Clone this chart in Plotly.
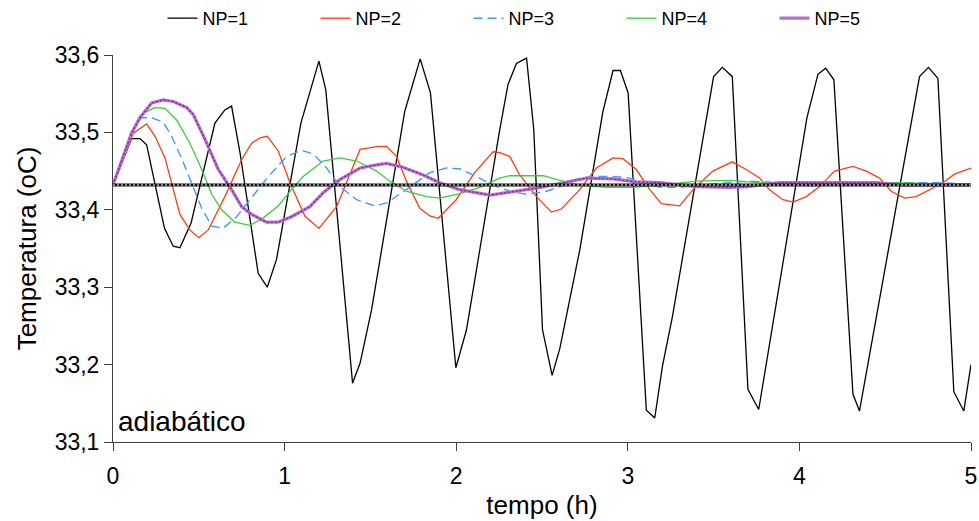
import plotly.graph_objects as go

# Temperature response (oC) vs time (h) for different NP values, adiabatic case
t_np1 = [0, 0.108, 0.157, 0.196, 0.30, 0.351, 0.39, 0.455, 0.594, 0.652, 0.691, 0.74, 0.846,
         0.899, 0.953, 1.095, 1.2, 1.24, 1.396, 1.44, 1.507, 1.70, 1.79, 1.85, 1.998, 2.06,
         2.254, 2.302, 2.351, 2.41, 2.452, 2.503, 2.559, 2.604, 2.72, 2.855, 2.914, 2.957,
         3.002, 3.108, 3.157, 3.202, 3.26, 3.50, 3.551, 3.609, 3.70, 3.763, 4.044, 4.108,
         4.153, 4.201, 4.312, 4.35, 4.70, 4.752, 4.807, 4.90, 4.958, 5.0]
T_np1 = [33.432, 33.492, 33.492, 33.484, 33.376, 33.353, 33.351, 33.383, 33.512, 33.529, 33.534,
         33.474, 33.318, 33.300, 33.336, 33.512, 33.592, 33.555, 33.176, 33.202, 33.271, 33.527,
         33.595, 33.551, 33.196, 33.245, 33.504, 33.562, 33.589, 33.596, 33.504, 33.245, 33.186,
         33.221, 33.348, 33.527, 33.580, 33.580, 33.551, 33.141, 33.131, 33.198, 33.262, 33.572,
         33.584, 33.572, 33.168, 33.142, 33.519, 33.575, 33.583, 33.568, 33.162, 33.140, 33.572,
         33.584, 33.570, 33.165, 33.140, 33.200]

t_np2 = [0, 0.118, 0.196, 0.245, 0.303, 0.39, 0.448, 0.5, 0.555, 0.652, 0.75, 0.808, 0.856, 0.899,
         0.963, 1.031, 1.118, 1.20, 1.303, 1.44, 1.545, 1.594, 1.652, 1.71, 1.788, 1.846, 1.895,
         2.0, 2.108, 2.215, 2.254, 2.312, 2.37, 2.468, 2.555, 2.613, 2.72, 2.817, 2.914, 2.972,
         3.05, 3.128, 3.196, 3.302, 3.38, 3.496, 3.609, 3.69, 3.768, 3.826, 3.904, 3.963, 4.04,
         4.118, 4.205, 4.312, 4.39, 4.467, 4.535, 4.613, 4.681, 4.758, 4.836, 4.904, 5.0]
T_np2 = [33.432, 33.499, 33.511, 33.495, 33.467, 33.394, 33.374, 33.364, 33.374, 33.417, 33.465,
         33.486, 33.493, 33.495, 33.476, 33.435, 33.392, 33.376, 33.404, 33.478, 33.482, 33.482,
         33.469, 33.437, 33.402, 33.392, 33.389, 33.413, 33.448, 33.475, 33.474, 33.469, 33.445,
         33.417, 33.397, 33.401, 33.426, 33.454, 33.467, 33.466, 33.452, 33.426, 33.408, 33.405,
         33.426, 33.450, 33.462, 33.452, 33.441, 33.426, 33.413, 33.410, 33.417, 33.430, 33.450,
         33.456, 33.450, 33.441, 33.424, 33.415, 33.417, 33.426, 33.435, 33.446, 33.454]

t_np3 = [0, 0.108, 0.167, 0.225, 0.293, 0.342, 0.41, 0.468, 0.517, 0.575, 0.642, 0.72, 0.808,
         0.905, 1.012, 1.099, 1.167, 1.245, 1.322, 1.42, 1.526, 1.594, 1.71, 1.846, 1.943, 2.02,
         2.118, 2.215, 2.312, 2.41, 2.527, 2.604, 2.72, 2.817, 2.914, 3.011, 3.108, 3.205, 3.302,
         3.4, 3.593, 3.7, 3.82, 3.95, 4.1, 4.25, 4.5, 4.83, 5.0]
T_np3 = [33.432, 33.499, 33.519, 33.519, 33.513, 33.495, 33.461, 33.428, 33.402, 33.379, 33.376,
         33.391, 33.415, 33.443, 33.469, 33.477, 33.472, 33.454, 33.430, 33.413, 33.405, 33.409,
         33.426, 33.448, 33.454, 33.453, 33.443, 33.432, 33.424, 33.420, 33.424, 33.430, 33.441,
         33.443, 33.443, 33.441, 33.432, 33.429, 33.429, 33.432, 33.435, 33.437, 33.436, 33.432,
         33.431, 33.433, 33.435, 33.435, 33.433]

t_np4 = [0, 0.108, 0.177, 0.245, 0.303, 0.371, 0.448, 0.517, 0.575, 0.633, 0.71, 0.798, 0.866,
         0.963, 1.04, 1.108, 1.225, 1.322, 1.42, 1.536, 1.613, 1.71, 1.827, 1.904, 2.02, 2.137,
         2.196, 2.254, 2.312, 2.438, 2.507, 2.604, 2.72, 2.875, 3.03, 3.186, 3.302, 3.4, 3.593,
         3.7, 3.82, 3.95, 4.2, 4.5, 4.83, 5.0]
T_np4 = [33.432, 33.499, 33.525, 33.532, 33.531, 33.516, 33.486, 33.452, 33.420, 33.400, 33.384,
         33.380, 33.388, 33.405, 33.426, 33.443, 33.463, 33.467, 33.463, 33.450, 33.437, 33.424,
         33.417, 33.415, 33.421, 33.429, 33.435, 33.441, 33.444, 33.444, 33.444, 33.438, 33.432,
         33.429, 33.429, 33.432, 33.435, 33.437, 33.438, 33.436, 33.434, 33.435, 33.436, 33.435,
         33.434, 33.433]

t_np5 = [0, 0.108, 0.157, 0.225, 0.293, 0.351, 0.43, 0.468, 0.536, 0.614, 0.691, 0.75, 0.808,
         0.895, 0.963, 1.04, 1.147, 1.225, 1.322, 1.44, 1.536, 1.594, 1.69, 1.807, 1.904, 2.02,
         2.196, 2.33, 2.468, 2.623, 2.759, 2.914, 3.05, 3.186, 3.4, 3.593, 3.7, 3.88, 4.45, 4.6, 5.0]
T_np5 = [33.432, 33.499, 33.519, 33.538, 33.542, 33.540, 33.532, 33.523, 33.491, 33.452, 33.426,
         33.404, 33.394, 33.384, 33.384, 33.391, 33.404, 33.422, 33.439, 33.454, 33.458, 33.460,
         33.455, 33.445, 33.435, 33.426, 33.419, 33.423, 33.428, 33.435, 33.441, 33.440, 33.436,
         33.435, 33.430, 33.429, 33.430, 33.435, 33.435, 33.432, 33.432]

setpoint = 33.432
t_range = [0, 5]

x_ticks = [0, 1, 2, 3, 4, 5]
y_ticks = [33.1, 33.2, 33.3, 33.4, 33.5, 33.6]

FONT = "Liberation Sans, Arial, sans-serif"

fig = go.Figure()
fig.add_trace(go.Scatter(x=t_np1, y=T_np1, mode="lines", name="NP=1",
                         line=dict(color="#000000", width=1.3)))
fig.add_trace(go.Scatter(x=t_np2, y=T_np2, mode="lines", name="NP=2",
                         line=dict(color="#ff3c14", width=1.3)))
fig.add_trace(go.Scatter(x=t_np3, y=T_np3, mode="lines", name="NP=3",
                         line=dict(color="#3d9cff", width=1.4, dash="9px,5px")))
fig.add_trace(go.Scatter(x=t_np4, y=T_np4, mode="lines", name="NP=4",
                         line=dict(color="#3ccc3c", width=1.3)))
fig.add_trace(go.Scatter(x=t_np5, y=T_np5, mode="lines", name="NP=5",
                         line=dict(color="#b870cc", width=3.2)))
fig.add_trace(go.Scatter(x=t_np5, y=T_np5, mode="lines", showlegend=False, hoverinfo="skip",
                         line=dict(color="#8a2a9e", width=1.4, dash="2px,2px")))

# set point reference: black band with white dots
fig.add_trace(go.Scatter(x=t_range, y=[setpoint, setpoint], mode="lines", showlegend=False,
                         hoverinfo="skip", line=dict(color="#111111", width=3)))
fig.add_trace(go.Scatter(x=t_range, y=[setpoint, setpoint], mode="lines", showlegend=False,
                         hoverinfo="skip", line=dict(color="#ffffff", width=1, dash="2px,2px")))

fig.add_annotation(text="adiabático", xref="x", yref="y", x=0.02, y=33.127,
                   xanchor="left", yanchor="middle", showarrow=False,
                   font=dict(family=FONT, size=28, color="#000000"))

axis_common = dict(showline=True, linecolor="#404040", linewidth=1, ticks="outside",
                   ticklen=8, tickcolor="#404040", showgrid=False, zeroline=False,
                   automargin=False,
                   tickfont=dict(family=FONT, size=23, color="#000000"))

fig.update_xaxes(range=t_range, tickvals=x_ticks, ticklabelstandoff=5, **axis_common,
                 title=dict(text="tempo (h)", font=dict(family=FONT, size=26, color="#000000"),
                            standoff=8))
fig.update_yaxes(range=[y_ticks[0], y_ticks[-1]], tickvals=y_ticks, tickformat=".1f",
                 **axis_common,
                 title=dict(text="Temperatura (oC)", font=dict(family=FONT, size=26, color="#000000"),
                            standoff=10))

fig.update_layout(
    width=979, height=521,
    margin=dict(l=113, r=8, t=55, b=79, pad=0),
    paper_bgcolor="#ffffff", plot_bgcolor="#ffffff",
    separators=",.",
    showlegend=True,
    legend=dict(orientation="h", xref="container", yref="container",
                x=0.166, xanchor="left", y=1.0, yanchor="top",
                entrywidth=108, entrywidthmode="pixels",
                font=dict(family=FONT, size=18, color="#000000"),
                bgcolor="rgba(0,0,0,0)"),
    font=dict(family=FONT),
)

fig.write_html("out.html")
